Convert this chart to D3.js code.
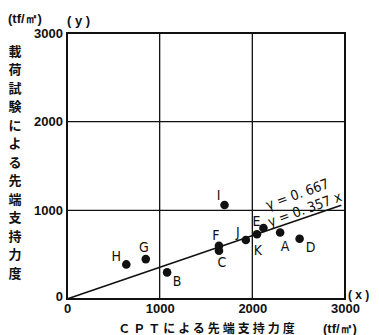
<!DOCTYPE html>
<html>
<head>
<meta charset="utf-8">
<script src="https://cdn.jsdelivr.net/npm/d3@7"></script>
<style>
  body { margin: 0; background: #fff; }
  svg { display: block; }
</style>
</head>
<body>
<svg></svg>
<script>
// data
var pointNames = ["A", "B", "C", "D", "E", "F", "G", "H", "I", "J", "K"]
var cptValues  = [2300, 1080, 1640, 2510, 2120, 1640, 850, 640, 1700, 1930, 2050]   // x (tf/m2)
var loadValues = [750, 300, 545, 680, 800, 600, 450, 390, 1060, 665, 730]           // y (tf/m2)
var tickValues = [0, 1000, 2000, 3000]
var slope = 0.357
var fitEnd = 2960
var corr = "0. 667"
var yTitleChars = ["載", "荷", "試", "験", "に", "よ", "る", "先", "端", "支", "持", "力", "度"]

var screen = {width: 379, height: 335}
var plot = {left: 67, right: 345, top: 33, bottom: 299}

var svg = d3.select("svg")
    .attr("width", screen.width)
    .attr("height", screen.height)

var xScale = d3.scaleLinear().domain([0, 3000]).range([plot.left, plot.right])
var yScale = d3.scaleLinear().domain([0, 3000]).range([plot.bottom, plot.top])

var numFont = "'Liberation Sans', Arial, sans-serif"
var narrowFont = "'Liberation Sans Narrow', 'DejaVu Sans Condensed', 'Liberation Sans', sans-serif"
var cjkFont = "'Noto Sans CJK JP', sans-serif"

// grid
var grid = svg.append("g").attr("stroke", "#111").attr("stroke-width", 1.3)
grid.selectAll(".vgrid")
    .data(tickValues.slice(1, 3))
    .enter().append("line")
    .attr("x1", function(d){return xScale(d)})
    .attr("x2", function(d){return xScale(d)})
    .attr("y1", yScale(0))
    .attr("y2", yScale(3000))
grid.selectAll(".hgrid")
    .data(tickValues.slice(1, 3))
    .enter().append("line")
    .attr("y1", function(d){return yScale(d)})
    .attr("y2", function(d){return yScale(d)})
    .attr("x1", xScale(0))
    .attr("x2", xScale(3000))

// frame
svg.append("rect")
    .attr("x", xScale(0))
    .attr("y", yScale(3000))
    .attr("width", xScale(3000) - xScale(0))
    .attr("height", yScale(0) - yScale(3000))
    .attr("fill", "none")
    .attr("stroke", "#111")
    .attr("stroke-width", 2)

// axes (labels only)
var xAxis = d3.axisBottom(xScale).tickValues(tickValues).tickFormat(d3.format("d")).tickSize(0).tickPadding(5)
var yAxis = d3.axisLeft(yScale).tickValues(tickValues).tickFormat(d3.format("d")).tickSize(0).tickPadding(4)

var gx = svg.append("g")
    .attr("transform", "translate(0," + plot.bottom + ")")
    .call(xAxis)
var gy = svg.append("g")
    .attr("transform", "translate(" + plot.left + ",0)")
    .call(yAxis)
svg.selectAll(".domain").remove()
svg.selectAll(".tick text")
    .attr("font-family", numFont)
    .attr("font-weight", "bold")
    .attr("font-size", 13)
    .attr("fill", "#111")
gy.selectAll(".tick text").filter(function(d){return d === 0}).attr("dy", "0.1em")

// regression line
var lineGenerator = d3.line()
    .x(function(d){return xScale(d)})
    .y(function(d){return yScale(slope * d)})
svg.append("path")
    .datum([0, fitEnd])
    .attr("d", lineGenerator)
    .attr("fill", "none")
    .attr("stroke", "#111")
    .attr("stroke-width", 1.6)

// points
var points = pointNames.map(function(n, i){return {name: n, x: cptValues[i], y: loadValues[i]}})
svg.selectAll(".dot")
    .data(points)
    .enter().append("circle")
    .attr("cx", function(d){return xScale(d.x)})
    .attr("cy", function(d){return yScale(d.y)})
    .attr("r", 4.3)
    .attr("fill", "#111")

// letter placement around each dot
var labelOffset = {
    A: [5, 13], B: [10, 9], C: [3, 11], D: [11, 8], E: [-7, -7], F: [-3, -11],
    G: [-2, -12], H: [-10, -8], I: [-6, -10], J: [-8, -8], K: [1, 16]
}
svg.selectAll(".lbl")
    .data(points)
    .enter().append("text")
    .attr("x", function(d){return xScale(d.x) + labelOffset[d.name][0]})
    .attr("y", function(d){return yScale(d.y) + labelOffset[d.name][1]})
    .attr("text-anchor", "middle")
    .attr("dominant-baseline", "central")
    .attr("font-family", narrowFont)
    .attr("font-size", 14)
    .attr("fill", "#111")
    .text(function(d){return d.name})

// equation text along the line
var angle = -20
svg.append("text")
    .attr("transform", "translate(" + 268 + "," + 210 + ") rotate(" + angle + ")")
    .attr("font-family", narrowFont)
    .attr("font-size", 14)
    .attr("fill", "#111")
    .text("γ = " + corr)
svg.append("text")
    .attr("transform", "translate(" + 270 + "," + 227 + ") rotate(" + angle + ")")
    .attr("font-family", narrowFont)
    .attr("font-size", 14)
    .attr("fill", "#111")
    .text("y = 0. " + String(slope).split(".")[1] + " x")

// units and axis names
svg.append("text")
    .attr("x", 8).attr("y", 23)
    .attr("font-family", numFont).attr("font-weight", "bold").attr("font-size", 13)
    .attr("fill", "#111")
    .text("(tf/㎡)")
svg.append("text")
    .attr("x", 67).attr("y", 25)
    .attr("font-family", numFont).attr("font-weight", "bold").attr("font-size", 13)
    .attr("fill", "#111")
    .text("( y )")
svg.append("text")
    .attr("x", 348).attr("y", 299)
    .attr("font-family", numFont).attr("font-weight", "bold").attr("font-size", 12)
    .attr("fill", "#111")
    .text("( x )")
svg.append("text")
    .attr("x", 323).attr("y", 333)
    .attr("font-family", numFont).attr("font-weight", "bold").attr("font-size", 13)
    .attr("fill", "#111")
    .text("(tf/㎡)")

svg.append("text")
    .attr("x", 208).attr("y", 333)
    .attr("text-anchor", "middle")
    .attr("font-family", cjkFont).attr("font-weight", "bold").attr("font-size", 12)
    .attr("letter-spacing", 3)
    .attr("fill", "#111")
    .text("ＣＰＴによる先端支持力度")

var yTitleScale = d3.scalePoint().domain(d3.range(yTitleChars.length)).range([50, 272])
svg.selectAll(".ytitle")
    .data(yTitleChars)
    .enter().append("text")
    .attr("x", 15)
    .attr("y", function(d, i){return yTitleScale(i)})
    .attr("text-anchor", "middle")
    .attr("dominant-baseline", "central")
    .attr("font-family", cjkFont).attr("font-weight", "bold").attr("font-size", 13)
    .attr("fill", "#111")
    .text(function(d){return d})
</script>
</body>
</html>
